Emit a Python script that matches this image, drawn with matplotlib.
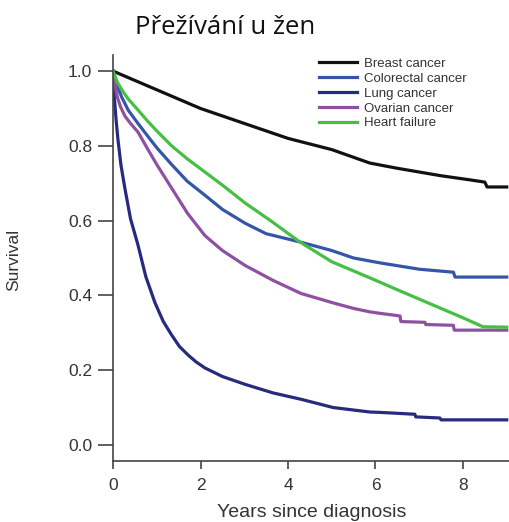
import matplotlib
matplotlib.use("Agg")
import matplotlib.pyplot as plt
from matplotlib import font_manager

labels = ["Breast cancer", "Colorectal cancer", "Lung cancer", "Ovarian cancer", "Heart failure"]
colors = ["#111111", "#3556a8", "#262b7e", "#9050a2", "#45c043"]

breast_t = [0, 1, 2, 3, 4, 5, 5.87, 6.5, 7, 7.5, 8.16, 8.5, 8.55, 9.0]
breast_s = [1.0, 0.95, 0.90, 0.86, 0.82, 0.79, 0.754, 0.74, 0.73, 0.72, 0.709, 0.703, 0.69, 0.69]

colo_t = [0, 0.1, 0.2, 0.35, 0.57, 0.8, 1.0, 1.34, 1.7, 2.1, 2.5, 3.02, 3.5, 4.27, 5.0, 5.5, 6.1, 7.0, 7.78, 7.82, 9.0]
colo_s = [1.0, 0.96, 0.93, 0.895, 0.86, 0.825, 0.795, 0.75, 0.705, 0.668, 0.63, 0.593, 0.565, 0.543, 0.52, 0.50, 0.487, 0.47, 0.462, 0.449, 0.449]

lung_t = [0, 0.03, 0.07, 0.11, 0.18, 0.27, 0.4, 0.57, 0.75, 0.96, 1.15, 1.34, 1.52, 1.72, 1.9, 2.1, 2.5, 3.02, 3.66, 4.3, 5.03, 5.87, 6.1, 6.9, 6.92, 7.47, 7.5, 9.0]
lung_s = [1.0, 0.93, 0.87, 0.82, 0.75, 0.687, 0.605, 0.535, 0.45, 0.38, 0.33, 0.294, 0.263, 0.24, 0.222, 0.206, 0.183, 0.162, 0.139, 0.122, 0.10, 0.088, 0.087, 0.082, 0.075, 0.072, 0.067, 0.067]

ovar_t = [0, 0.05, 0.1, 0.17, 0.27, 0.4, 0.57, 0.8, 1.0, 1.34, 1.7, 2.1, 2.5, 3.02, 3.66, 4.3, 5.03, 5.5, 5.87, 6.1, 6.56, 6.58, 7.13, 7.15, 7.78, 7.8, 9.0]
ovar_s = [1.0, 0.96, 0.93, 0.905, 0.88, 0.86, 0.837, 0.79, 0.75, 0.687, 0.62, 0.56, 0.52, 0.48, 0.44, 0.405, 0.38, 0.365, 0.356, 0.352, 0.345, 0.33, 0.328, 0.322, 0.32, 0.307, 0.307]

heart_t = [0, 0.1, 0.2, 0.35, 0.57, 0.8, 1.0, 1.34, 1.7, 2.1, 2.5, 3.02, 3.6, 4.27, 5.0, 5.87, 6.5, 7.0, 7.5, 8.0, 8.46, 9.0]
heart_s = [1.0, 0.97, 0.95, 0.925, 0.896, 0.865, 0.84, 0.80, 0.765, 0.73, 0.695, 0.647, 0.6, 0.543, 0.49, 0.447, 0.415, 0.39, 0.365, 0.34, 0.316, 0.315]

series = [(breast_t, breast_s), (colo_t, colo_s), (lung_t, lung_s), (ovar_t, ovar_s), (heart_t, heart_s)]

xticks = [0, 2, 4, 6, 8]
yticks = [0.0, 0.2, 0.4, 0.6, 0.8, 1.0]

fam = ["Liberation Sans", "DejaVu Sans"]
available = {f.name for f in font_manager.fontManager.ttflist}
if "Liberation Sans Narrow" in available:
    ylab_fam, ylab_size = ["Liberation Sans Narrow", "DejaVu Sans"], 14.5
else:
    ylab_fam, ylab_size = fam, 12.5

fig = plt.figure(figsize=(5.10, 5.22), dpi=100)
ax = fig.add_axes([0.2216, 0.1169, 0.778, 0.7777])

for (t, s), lab, c in zip(series, labels, colors):
    ax.plot(t, s, color=c, lw=2.3, label=lab, solid_joinstyle="round")

ax.set_xlim(0, 9.07)
ax.set_ylim(-0.043, 1.043)
ax.set_xticks(xticks)
ax.set_xticklabels([str(v) for v in xticks])
ax.set_yticks(yticks)
ax.set_yticklabels([f"{v:.1f}" for v in yticks])

for side in ["top", "right"]:
    ax.spines[side].set_visible(False)
for side in ["left", "bottom"]:
    ax.spines[side].set_color("#444444")
    ax.spines[side].set_linewidth(1.2)

ax.tick_params(axis="both", width=1.2, color="#444444", labelcolor="#333333", labelsize=12.5)
ax.tick_params(axis="y", length=10.5, pad=4.5)
ax.tick_params(axis="x", length=6, pad=6)
for lab in ax.get_xticklabels() + ax.get_yticklabels():
    lab.set_family(fam)

ax.set_xlabel("Years since diagnosis", fontsize=14, color="#333333",
              family=fam, labelpad=8)
ax.set_ylabel("Survival", fontsize=ylab_size, color="#333333", family=ylab_fam)
ax.yaxis.set_label_coords(-0.232, 0.495)

leg = ax.legend(loc="upper left", bbox_to_anchor=(0.513, 1.0), frameon=False,
                prop={"family": fam, "size": 9.5},
                handlelength=2.9, handletextpad=0.5, labelspacing=0.2,
                borderaxespad=0.0, borderpad=0.2)
for txt in leg.get_texts():
    txt.set_color("#333333")

fig.text(0.441, 0.948, "Přežívání u žen", ha="center", va="center", fontsize=18.5,
         family=["Open Sans", "DejaVu Sans"], color="#111111")

fig.savefig("out.png", dpi=100)
